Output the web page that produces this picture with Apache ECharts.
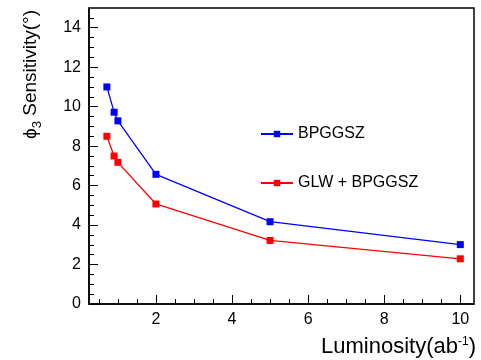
<!DOCTYPE html>
<html>
<head>
<meta charset="utf-8">
<script src="https://cdn.jsdelivr.net/npm/echarts@6/dist/echarts.min.js"></script>
<style>
  html, body { margin: 0; padding: 0; background: #fff; }
  #chart { width: 481px; height: 360px; }
</style>
</head>
<body>
<div id="chart"></div>
<script>
// Integrated luminosity points (ab^-1)
const luminosity = [0.71, 0.9, 1.0, 2.0, 5.0, 10.0];
// phi3 sensitivity (degrees)
const bpggsz = [11.0, 9.72, 9.28, 6.57, 4.17, 3.01];
const glwBpggsz = [8.5, 7.5, 7.18, 5.07, 3.22, 2.29];
const seriesNames = ['BPGGSZ', 'GLW + BPGGSZ'];
const xMajorTicks = [2, 4, 6, 8, 10];
const xMinorTicks = [0.5, 1, 1.5, 2.5, 3, 3.5, 4.5, 5, 5.5, 6.5, 7, 7.5, 8.5, 9, 9.5, 10.5];
const yMajorTicks = [0, 2, 4, 6, 8, 10, 12, 14];
const yMinorTicks = [0.5, 1, 1.5, 2.5, 3, 3.5, 4.5, 5, 5.5, 6.5, 7, 7.5, 8.5, 9, 9.5,
                     10.5, 11, 11.5, 12.5, 13, 13.5, 14.5];

const FONT = 'Liberation Sans, Arial, Helvetica, sans-serif';
const chart = echarts.init(document.getElementById('chart'), null, { renderer: 'canvas' });

const X_MIN = 0.24, X_MAX = 10.36, Y_MIN = 0, Y_MAX = 15;
const axisLine = { show: true, lineStyle: { color: '#000', width: 1.5 } };

function pairs(xs, ys) { return xs.map((x, i) => [x, ys[i]]); }

chart.setOption({
  animation: false,
  backgroundColor: '#fff',
  grid: {
    left: 89, right: 7, top: 8, bottom: 56,
    show: true, borderColor: '#000', borderWidth: 1.5, backgroundColor: 'transparent'
  },
  legend: {
    orient: 'vertical',
    left: 255, top: 121,
    itemGap: 33,
    itemWidth: 32, itemHeight: 8,
    textStyle: { fontFamily: FONT, fontSize: 16, color: '#000' },
    data: seriesNames
  },
  xAxis: [
    {
      type: 'value', min: X_MIN, max: X_MAX, position: 'bottom',
      axisLine: axisLine,
      splitLine: { show: false },
      axisTick: { show: true, inside: true, length: 9, customValues: xMajorTicks,
                  lineStyle: { color: '#000', width: 1 } },
      axisLabel: { customValues: xMajorTicks, margin: 8, color: '#000',
                   fontFamily: FONT, fontSize: 16 }
    },
    {
      type: 'value', min: X_MIN, max: X_MAX, position: 'bottom',
      axisLine: { show: false },
      splitLine: { show: false },
      axisTick: { show: true, inside: true, length: 5, customValues: xMinorTicks,
                  lineStyle: { color: '#000', width: 1 } },
      axisLabel: { show: false }
    }
  ],
  yAxis: [
    {
      type: 'value', min: Y_MIN, max: Y_MAX, position: 'left',
      axisLine: axisLine,
      splitLine: { show: false },
      axisTick: { show: true, inside: true, length: 9, customValues: yMajorTicks,
                  lineStyle: { color: '#000', width: 1 } },
      axisLabel: { customValues: yMajorTicks, margin: 8, color: '#000',
                   fontFamily: FONT, fontSize: 16 }
    },
    {
      type: 'value', min: Y_MIN, max: Y_MAX, position: 'left',
      axisLine: { show: false },
      splitLine: { show: false },
      axisTick: { show: true, inside: true, length: 5, customValues: yMinorTicks,
                  lineStyle: { color: '#000', width: 1 } },
      axisLabel: { show: false }
    }
  ],
  series: [
    {
      name: seriesNames[0], type: 'line', data: pairs(luminosity, bpggsz),
      symbol: 'rect', symbolSize: 7, showAllSymbol: true,
      lineStyle: { color: '#0000ff', width: 1.3 },
      itemStyle: { color: '#0000ff' }
    },
    {
      name: seriesNames[1], type: 'line', data: pairs(luminosity, glwBpggsz),
      symbol: 'rect', symbolSize: 7, showAllSymbol: true,
      lineStyle: { color: '#ff0000', width: 1.3 },
      itemStyle: { color: '#ff0000' }
    }
  ],
  graphic: [
    {
      type: 'text', x: 31, y: 10, rotation: Math.PI / 2,
      style: {
        text: '{a|ϕ}{s|3}{a| Sensitivity(°)}',
        align: 'right', verticalAlign: 'middle',
        fill: '#000',
        rich: {
          a: { fontFamily: FONT, fontSize: 19, fill: '#000' },
          s: { fontFamily: FONT, fontSize: 13, fill: '#000', padding: [12, 0, 0, 0] }
        }
      }
    },
    {
      type: 'text', x: 476, y: 347,
      style: {
        text: '{a|Luminosity(ab}{s|-1}{a|)}',
        align: 'right', verticalAlign: 'middle',
        fill: '#000',
        rich: {
          a: { fontFamily: FONT, fontSize: 22, fill: '#000' },
          s: { fontFamily: FONT, fontSize: 12, fill: '#000', padding: [0, 0, 11, 0] }
        }
      }
    }
  ]
});
</script>
</body>
</html>
